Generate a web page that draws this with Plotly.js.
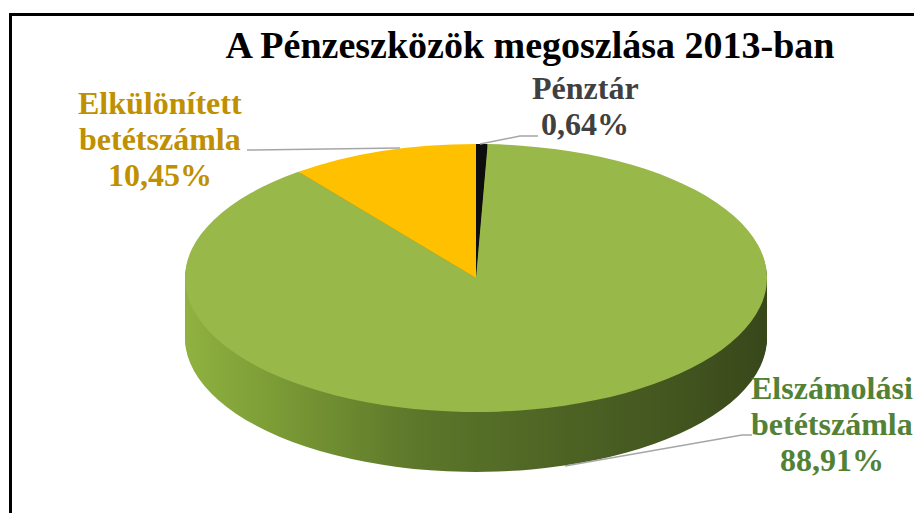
<!DOCTYPE html>
<html><head><meta charset="utf-8">
<script src="https://cdn.plot.ly/plotly-3.0.1.min.js"></script>
<style>
html,body{margin:0;padding:0;background:#fff;width:914px;height:513px;overflow:hidden}
#pie{position:absolute;left:0;top:144px;width:914px;height:712px;transform:scaleY(0.4605);transform-origin:0 0}
#over{position:absolute;left:0;top:0;width:914px;height:513px}
</style></head><body>
<div id="pie"></div><div id="over"></div>
<script>
// ---- data ----
const categories = ['Pénztár', 'Elszámolási betétszámla', 'Elkülönített betétszámla'];
const shares = [0.64, 88.91, 10.45];
const chartTitle = 'A Pénzeszközök megoszlása 2013-ban';

// ---- styles ----
const topColors = ['#0d0d0d', '#99B84A', '#FFC000'];
const sideColors = ['#000000', '#4A5E24', '#9C7500'];
const labelColors = ['#404040', '#538135', '#BF9000'];
const FONT = 'Liberation Serif';
const W = 914, Hc = 513;
const R2 = 582, D = 130, H = 712, CX = 476;
const N = 40;

const pieTraces = [];
function layer(offset, colors) {
  return {
    type: 'pie', values: shares, labels: categories, sort: false,
    direction: 'clockwise', rotation: 0, textinfo: 'none', hoverinfo: 'none',
    showlegend: false,
    marker: {colors: colors, line: {width: 0}},
    domain: {x: [(CX - R2 / 2) / W, (CX + R2 / 2) / W], y: [1 - (R2 + offset) / H, 1 - offset / H]}
  };
}
for (let i = N; i >= 1; i--) pieTraces.push(layer(D * i / N, sideColors));
pieTraces.push(layer(0, topColors));

function hexToRgb(h) {
  const n = parseInt(h.slice(1), 16);
  return 'rgb(' + (n >> 16) + ', ' + ((n >> 8) & 255) + ', ' + (n & 255) + ')';
}

Plotly.newPlot('pie', pieTraces, {
  width: W, height: H, margin: {l: 0, r: 0, t: 0, b: 0},
  paper_bgcolor: 'rgba(0,0,0,0)', plot_bgcolor: 'rgba(0,0,0,0)'
}, {staticPlot: true}).then(gd => {
  // horizontal shading of the pie wall
  const NS = 'http://www.w3.org/2000/svg';
  const svg = gd.querySelector('svg.main-svg');
  let defs = svg.querySelector('defs');
  if (!defs) { defs = document.createElementNS(NS, 'defs'); svg.insertBefore(defs, svg.firstChild); }
  const grad = document.createElementNS(NS, 'linearGradient');
  grad.setAttribute('id', 'wallGrad');
  grad.setAttribute('x1', '0'); grad.setAttribute('x2', '1');
  grad.setAttribute('y1', '0'); grad.setAttribute('y2', '0');
  [[0, '#8FB240'], [0.15, '#7C9C36'], [0.4, '#5C772A'], [0.65, '#4D6324'], [0.85, '#42551F'], [1, '#38471A']]
    .forEach(([o, c]) => {
      const s = document.createElementNS(NS, 'stop');
      s.setAttribute('offset', o); s.setAttribute('stop-color', c);
      grad.appendChild(s);
    });
  defs.appendChild(grad);
  const wall = hexToRgb(sideColors[1]);
  gd.querySelectorAll('path.surface').forEach(p => {
    if (p.style.fill === wall) p.style.fill = 'url(#wallGrad)';
  });
});

// ---- overlay: title, labels, leader lines, frame ----
const px = (x) => x / W, py = (y) => 1 - y / Hc;
const labelPos = [[585, 88], [832, 388], [160, 103]];
const lineGap = 36;
const annotations = [];
categories.forEach((c, i) => {
  const lines = c.split(' ').concat([shares[i].toFixed(2).replace('.', ',') + '%']);
  lines.forEach((t, j) => {
    annotations.push({
      text: t, xref: 'paper', yref: 'paper', x: px(labelPos[i][0]), y: py(labelPos[i][1] + j * lineGap),
      xanchor: 'center', yanchor: 'middle', showarrow: false,
      font: {family: FONT, size: 32, color: labelColors[i], weight: 'bold'}
    });
  });
});
const leaders = [
  [[480, 144], [520, 136], [538, 136]],
  [[565, 466], [742, 435], [752, 435]],
  [[247, 150], [400, 148]]
];
const shapes = leaders.map(pts => ({
  type: 'path', xref: 'paper', yref: 'paper',
  path: pts.map((p, k) => (k ? 'L' : 'M') + px(p[0]) + ',' + py(p[1])).join(' '),
  line: {color: '#A6A6A6', width: 1.5}
}));
shapes.push({type: 'rect', xref: 'paper', yref: 'paper', x0: px(10.5), x1: 1.2, y0: -0.2, y1: py(14.5),
  line: {color: '#000', width: 3}});

Plotly.newPlot('over', [], {
  width: W, height: Hc, margin: {l: 0, r: 0, t: 0, b: 0},
  paper_bgcolor: 'rgba(0,0,0,0)', plot_bgcolor: 'rgba(0,0,0,0)',
  xaxis: {visible: false}, yaxis: {visible: false},
  title: {text: chartTitle, x: 530 / W, xanchor: 'center', y: 1 - 45 / Hc, yanchor: 'middle',
    font: {family: FONT, size: 38, color: '#000', weight: 'bold'}},
  annotations: annotations, shapes: shapes
}, {staticPlot: true});
</script>
</body></html>
